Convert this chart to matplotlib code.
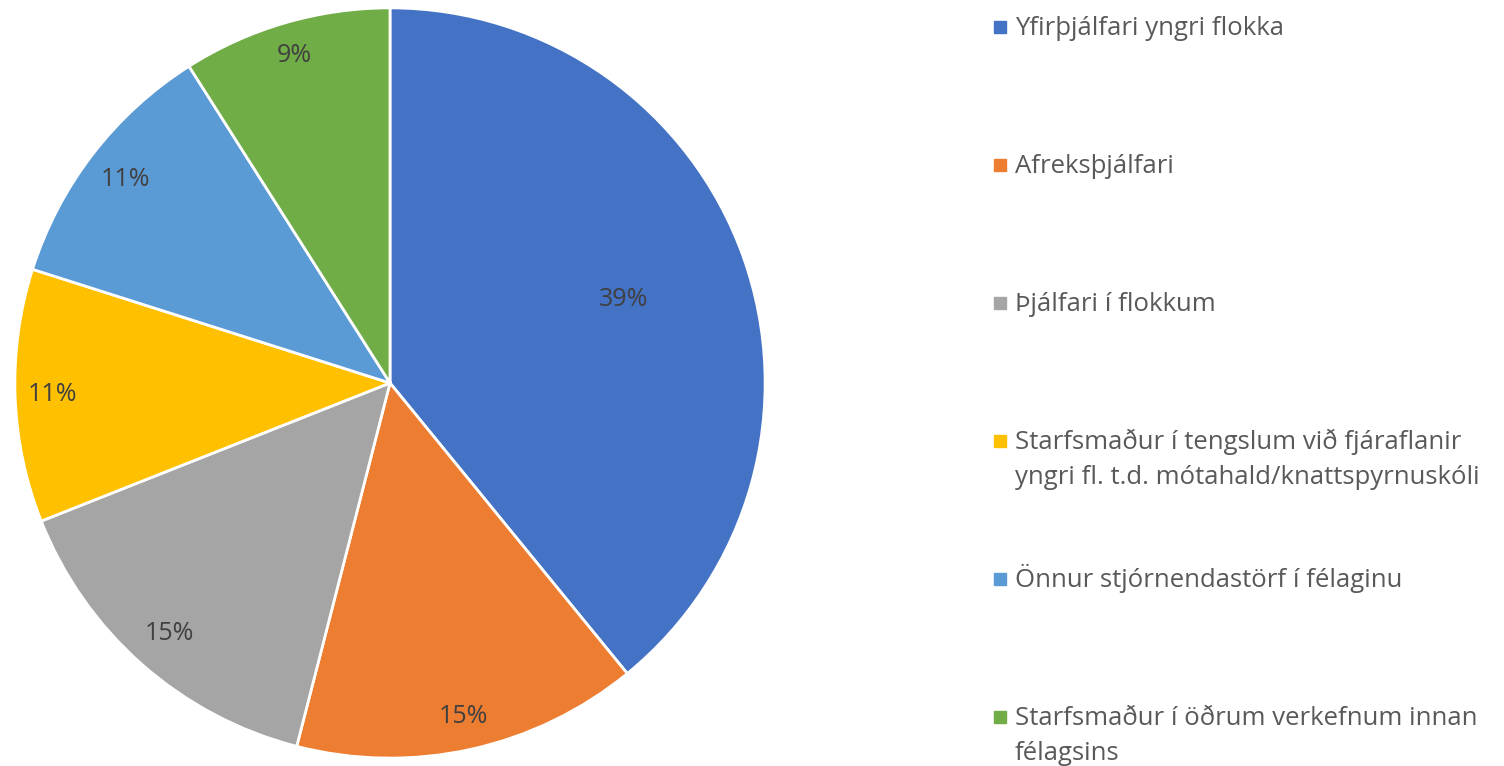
import matplotlib.pyplot as plt
from matplotlib.patches import Rectangle
import numpy as np

# Gögn
labels = [
    "Yfirþjálfari yngri flokka",
    "Afreksþjálfari",
    "Þjálfari í flokkum",
    "Starfsmaður í tengslum við fjáraflanir\nyngri fl. t.d. mótahald/knattspyrnuskóli",
    "Önnur stjórnendastörf í félaginu",
    "Starfsmaður í öðrum verkefnum innan\nfélagsins",
]
values = [39.1, 14.9, 15.0, 10.9, 11.1, 9.0]
pct_labels = ["39%", "15%", "15%", "11%", "11%", "9%"]
colors = ["#4472C4", "#ED7D31", "#A5A5A5", "#FFC000", "#5B9BD5", "#70AD47"]

# fjarlægð prósentumerkja frá miðju (hlutfall af radíus)
pct_dist = [0.66, 0.91, 0.89, 0.90, 0.89, 0.91]

W, H = 1504, 766
plt.rcParams["font.family"] = ["Open Sans", "DejaVu Sans"]
fig = plt.figure(figsize=(W / 100, H / 100), dpi=100)

cx, cy, r = 390, 383, 377
ax = fig.add_axes([(cx - r) / W, (H - cy - r) / H, 2 * r / W, 2 * r / H])

wedges, texts, autotexts = ax.pie(
    values,
    colors=colors,
    startangle=90,
    counterclock=False,
    autopct="%1.0f%%",
    wedgeprops=dict(edgecolor="white", linewidth=2),
    textprops=dict(fontsize=18, color="#404040"),
)
ax.set_aspect("equal")
ax.set_xlim(-1.005, 1.005)
ax.set_ylim(-1.005, 1.005)

for w, t, d, s in zip(wedges, autotexts, pct_dist, pct_labels):
    ang = np.deg2rad((w.theta1 + w.theta2) / 2)
    t.set_position((d * np.cos(ang), d * np.sin(ang)))
    t.set_text(s)

# Skýringar til hægri
top = 35
step = 138
line_h = 35
for i, (lab, col) in enumerate(zip(labels, colors)):
    yb = top + i * step
    for k, line in enumerate(lab.split("\n")):
        fig.text(1015 / W, 1 - (yb + k * line_h) / H, line, fontsize=18.5,
                 color="#595959", va="baseline", ha="left")
    fig.add_artist(Rectangle((994 / W, 1 - (yb - 2) / H), 12 / W, 12 / H,
                             transform=fig.transFigure, color=col))

fig.savefig("out.png", dpi=100)
